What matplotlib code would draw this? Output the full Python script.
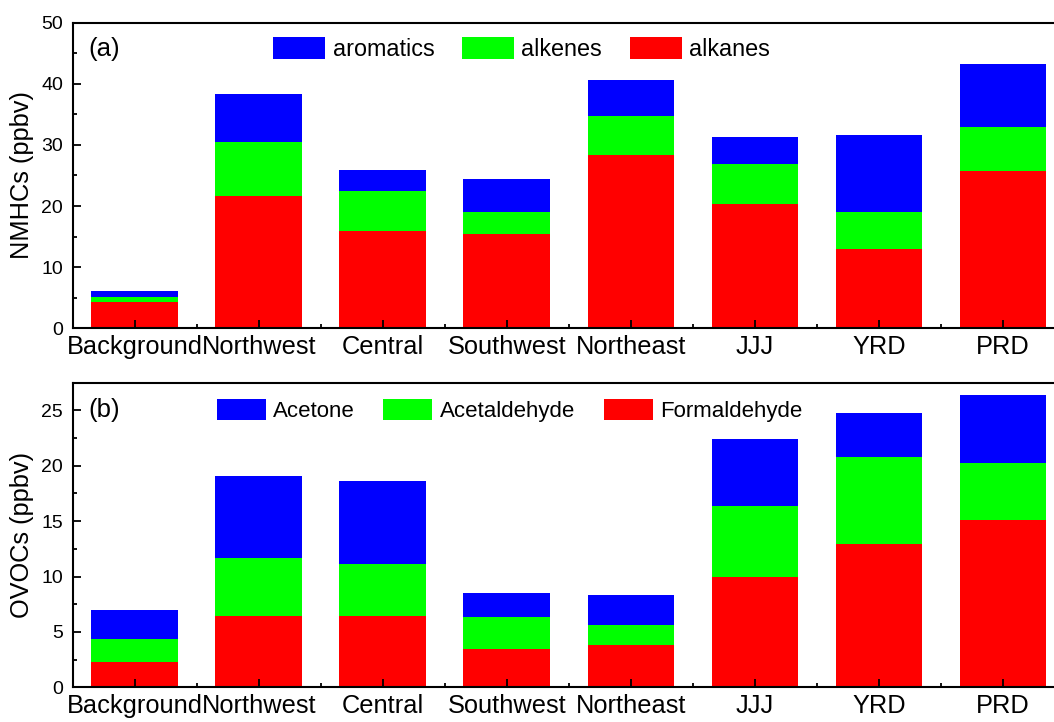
import numpy as np
import matplotlib
matplotlib.use('Agg')
from matplotlib import pyplot as plt
from matplotlib.ticker import MultipleLocator

plt.rcParams['font.family'] = ['Liberation Sans', 'DejaVu Sans']

regions = ['Background', 'Northwest', 'Central', 'Southwest', 'Northeast', 'JJJ', 'YRD', 'PRD']

# (a) NMHCs, ppbv
alkanes = [4.25, 21.7, 15.9, 15.5, 28.4, 20.3, 13.0, 25.7]
alkenes = [0.87, 8.8, 6.5, 3.5, 6.3, 6.6, 6.0, 7.3]
aromatics = [0.98, 7.9, 3.5, 5.4, 5.9, 4.4, 12.7, 10.2]

# (b) OVOCs, ppbv
formaldehyde = [2.31, 6.43, 6.43, 3.49, 3.79, 9.98, 12.93, 15.1]
acetaldehyde = [2.08, 5.21, 4.70, 2.85, 1.81, 6.38, 7.88, 5.14]
acetone = [2.61, 7.46, 7.52, 2.14, 2.76, 6.02, 3.95, 6.11]

x = np.arange(1, len(regions) + 1)
colors = ['#ff0000', '#00ff00', '#0000ff']


def stacked(ax, series, names, ylabel, ymax, major, panel, leg_x, leg_y, leg_fs, handle_len, colsp):
    bottom = np.zeros(len(regions))
    handles = []
    for vals, name, c in zip(series, names, colors):
        b = ax.bar(x, vals, width=0.7, bottom=bottom, color=c, label=name, linewidth=0)
        bottom += np.array(vals)
        handles.append(b)
    ax.set_xlim(0.5, 8.5)
    ax.set_ylim(0, ymax)
    ax.set_xticks(x)
    ax.set_xticklabels(regions, fontsize=18.3)
    ax.xaxis.set_minor_locator(MultipleLocator(1, offset=0.5))
    ax.yaxis.set_major_locator(MultipleLocator(major))
    ax.yaxis.set_minor_locator(MultipleLocator(major / 2))
    ax.tick_params(axis='both', which='major', direction='in', length=5.5, width=1.3)
    ax.tick_params(axis='both', which='minor', direction='in', length=3, width=1.3)
    ax.tick_params(axis='y', labelsize=14, pad=7)
    ax.tick_params(axis='x', pad=5)
    for s in ax.spines.values():
        s.set_linewidth(1.5)
    ax.set_ylabel(ylabel, fontsize=18.3, labelpad=5)
    ax.text(0.016, leg_y, panel, transform=ax.transAxes, fontsize=18.5, va='center', ha='left')
    ax.legend(handles[::-1], names[::-1], loc='center left', bbox_to_anchor=(leg_x, leg_y),
              ncol=3, frameon=False, fontsize=leg_fs, handlelength=handle_len, handleheight=1.1,
              handletextpad=0.33, columnspacing=colsp, borderpad=0, borderaxespad=0)


fig = plt.figure(figsize=(10.54, 7.22), dpi=100)
ax1 = fig.add_axes([0.069, 0.5453, 0.9415, 0.4233])
ax2 = fig.add_axes([0.069, 0.0481, 0.9415, 0.4219])

stacked(ax1, [alkanes, alkenes, aromatics], ['alkanes', 'alkenes', 'aromatics'],
        'NMHCs (ppbv)', 50, 10, '(a)', 0.202, 0.914, 16.8, 2.22, 1.18)
stacked(ax2, [formaldehyde, acetaldehyde, acetone], ['Formaldehyde', 'Acetaldehyde', 'Acetone'],
        'OVOCs (ppbv)', 27.5, 5, '(b)', 0.145, 0.909, 16, 2.2, 1.3)

plt.savefig('out.png', dpi=100)
plt.close()
